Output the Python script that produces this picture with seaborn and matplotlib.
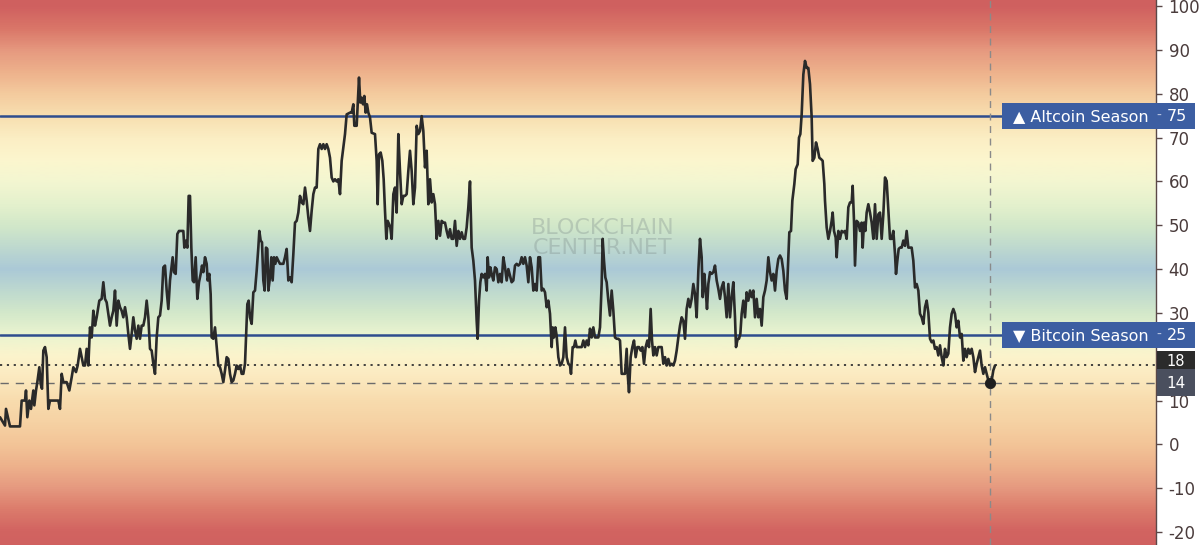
import numpy as np
import pandas as pd
import matplotlib
matplotlib.use("Agg")
import matplotlib.pyplot as plt
import matplotlib.transforms as mtransforms
from matplotlib.colors import LinearSegmentedColormap
from matplotlib.patches import Rectangle
import seaborn as sns

# time index (arbitrary units, no x labels in the chart) and altcoin season index values
t = [
    0, 15, 18, 25, 30, 60, 65, 75, 78, 82, 88, 93, 100, 103, 108, 112, 118, 122, 126, 130,
    135, 140, 145, 150, 175, 180, 185, 190, 200, 208, 215, 220, 228, 233, 240, 245, 250, 255, 260, 265,
    270, 275, 280, 285, 290, 298, 305, 310, 315, 320, 325, 330, 335, 340, 345, 350, 355, 360, 365, 370,
    375, 380, 385, 390, 395, 400, 405, 410, 415, 420, 425, 430, 435, 440, 445, 450, 455, 460, 465, 470,
    475, 480, 485, 490, 495,
    500, 505, 510, 518, 522, 527, 532, 537, 545, 550, 553, 558, 562, 566, 570, 574, 578, 582, 587, 592,
    597, 602, 606, 610, 615, 620, 623, 628, 632, 635, 640, 645, 650, 655, 660, 665, 670, 675, 680, 685,
    690, 695, 700, 705, 710, 715, 720, 725, 730, 735, 738, 742, 746, 750, 755, 760, 765, 770, 775, 778,
    782, 786, 790, 794, 798, 802, 805, 810, 814, 818, 822, 826, 830, 835, 840, 845, 850, 855, 860, 865,
    870, 875, 880, 885, 890, 895, 900, 905, 910, 915, 920, 925, 930, 935, 940, 945, 950, 955, 960, 965,
    970, 975, 980, 985, 990,
    995, 1000, 1005, 1010, 1015, 1020, 1025, 1030, 1035, 1040, 1050, 1055, 1060, 1063, 1070, 1073, 1077, 1081, 1085, 1089,
    1093, 1097, 1101, 1105, 1110, 1115, 1125, 1130, 1133, 1137, 1142, 1147, 1151, 1155, 1159, 1163, 1167, 1171, 1175, 1180,
    1185, 1190, 1195, 1200, 1205, 1210, 1215, 1220, 1225, 1230, 1235, 1240, 1245, 1250, 1255, 1260, 1265, 1270, 1275, 1280,
    1285, 1290, 1295, 1300, 1305, 1310, 1315, 1320, 1325, 1330, 1335, 1340, 1345, 1350, 1355, 1360, 1365, 1370, 1375, 1380,
    1385, 1390, 1395, 1400, 1405, 1410, 1415, 1420, 1425, 1430, 1433, 1437, 1441, 1445, 1450, 1455, 1460, 1463, 1467, 1471,
    1475, 1480, 1485,
    1490, 1495, 1500, 1505, 1510, 1515, 1520, 1525, 1530, 1535, 1540, 1545, 1550, 1555, 1560, 1565, 1570, 1575, 1580, 1585,
    1590, 1595, 1600, 1605, 1610, 1615, 1620, 1625, 1630, 1635, 1640, 1645, 1650, 1655, 1658, 1662, 1666, 1670, 1675, 1680,
    1685, 1690, 1695, 1700, 1705, 1710, 1713, 1718, 1722, 1726, 1730, 1735, 1740, 1745, 1750, 1755, 1760, 1765, 1770, 1775,
    1780, 1785, 1790, 1795, 1800, 1805, 1808, 1812, 1816, 1820, 1825, 1830, 1835, 1840, 1845, 1850, 1855, 1860, 1865, 1870,
    1875, 1880, 1883, 1887, 1892, 1897, 1902, 1907, 1912, 1917, 1922, 1927, 1932, 1937, 1942, 1947, 1952, 1956, 1960, 1965,
    1970, 1975, 1980,
    1985, 1990, 1995, 2000, 2005, 2010, 2015, 2020, 2025, 2030, 2035, 2040, 2045, 2050, 2055, 2060, 2065, 2070, 2075, 2080,
    2085, 2090, 2095, 2100, 2105, 2108, 2113, 2117, 2121, 2125, 2130, 2135, 2140, 2145, 2150, 2155, 2160, 2165, 2170, 2175,
    2180, 2185, 2190, 2195, 2200, 2205, 2208, 2213, 2217, 2221, 2225, 2230, 2235, 2240, 2245, 2250, 2255, 2260, 2265, 2270,
    2275, 2280, 2285, 2290, 2295, 2300, 2305, 2310, 2315, 2320, 2325, 2330, 2335, 2340, 2345, 2350, 2355, 2360, 2365, 2368,
    2373, 2377, 2383, 2387, 2393, 2397, 2401, 2405, 2410, 2415, 2420, 2425, 2430, 2435, 2438, 2443, 2448, 2453, 2458, 2463,
    2468, 2473,
    2475, 2480, 2485, 2490, 2495, 2498, 2502, 2507, 2510, 2515, 2520, 2525, 2530, 2535, 2540, 2545, 2550, 2555, 2558, 2562,
    2565, 2570, 2575, 2580, 2585, 2588, 2592, 2596, 2600, 2605, 2610, 2615, 2620, 2625, 2630, 2635, 2640, 2645, 2650, 2655,
    2660, 2665, 2670, 2675, 2680, 2685, 2688, 2692, 2696, 2700, 2705, 2710, 2715, 2720, 2725, 2730, 2735, 2740, 2745, 2750,
    2755, 2760, 2765, 2770, 2775, 2780, 2785, 2790, 2795, 2800, 2805, 2810, 2815, 2820, 2825, 2830, 2835, 2840, 2845, 2850,
    2855, 2860, 2865, 2870, 2875, 2880, 2885, 2890, 2895, 2900, 2905, 2910, 2915, 2920, 2925, 2930, 2935, 2940, 2945, 2950,
    2955, 2960, 2965, 2970, 2975, 2980, 2985,
]
index = [
    6.2, 4.3, 8.1, 5.8, 4.1, 4.1, 10.0, 10.0, 12.3, 6.2, 10.0, 8.1, 12.3, 8.9, 12.3, 14.2, 17.6, 13.8, 12.7, 21.4,
    22.2, 19.9, 8.1, 10.0, 10.0, 8.1, 16.1, 14.2, 14.2, 12.3, 15.3, 17.6, 16.5, 18.0, 21.8, 19.9, 18.0, 18.0, 21.8, 18.0,
    26.7, 24.4, 30.5, 27.1, 29.0, 32.8, 33.2, 37.0, 33.2, 32.4, 29.8, 27.1, 29.0, 30.5, 35.1, 27.1, 32.8, 31.3, 30.5, 29.0,
    31.3, 29.0, 25.2, 21.8, 25.2, 29.0, 26.0, 24.1, 27.1, 24.1, 27.1, 27.1, 29.0, 32.8, 29.0, 21.8, 21.4, 18.4, 16.1, 24.4,
    29.0, 29.4, 32.8, 40.4, 40.8,
    35.1, 30.9, 37.4, 42.7, 39.3, 38.9, 48.0, 48.7, 48.7, 48.7, 44.9, 46.5, 44.9, 56.7, 56.7, 44.9, 37.4, 37.0, 42.7, 33.2,
    37.0, 38.9, 40.8, 39.3, 42.7, 41.2, 37.4, 38.9, 34.3, 24.4, 24.1, 26.7, 22.2, 18.0, 17.6, 16.1, 14.2, 16.9, 19.9, 19.5,
    16.1, 14.2, 14.6, 16.1, 18.0, 17.2, 18.0, 16.1, 16.1, 18.4, 24.4, 32.0, 32.8, 29.0, 27.5, 34.7, 35.1, 39.6, 44.9, 48.7,
    46.5, 46.1, 37.4, 35.1, 44.9, 44.6, 35.1, 38.1, 42.7, 37.4, 42.7, 41.2, 42.7, 41.9, 41.2, 41.2, 41.2, 42.7, 44.6, 37.4,
    38.1, 37.0, 43.4, 50.6, 51.0, 52.9, 56.7, 55.2, 54.8, 58.6, 55.6, 51.8, 48.7, 53.3, 57.1, 58.6, 58.6, 67.4, 68.5, 67.4,
    68.5, 67.4, 68.5, 67.4, 65.4,
    60.9, 60.0, 60.5, 60.0, 60.5, 57.1, 64.7, 67.7, 70.8, 75.3, 75.7, 75.7, 77.6, 72.7, 72.7, 77.6, 83.7, 78.0, 79.1, 77.6,
    79.5, 75.7, 77.6, 75.7, 74.6, 71.1, 70.8, 64.7, 54.8, 66.2, 66.6, 64.7, 60.5, 53.3, 46.9, 51.0, 50.3, 49.5, 46.9, 57.1,
    58.6, 52.9, 70.8, 62.4, 54.8, 56.7, 56.7, 57.1, 62.4, 67.0, 62.4, 54.8, 58.6, 72.7, 70.8, 71.5, 74.9, 71.5, 63.2, 67.0,
    54.8, 60.5, 55.2, 57.1, 54.8, 46.9, 51.0, 47.6, 51.0, 50.6, 50.6, 48.7, 47.2, 49.1, 46.9, 46.9, 51.0, 45.3, 48.7, 46.9,
    48.4, 46.9, 46.9, 49.5, 54.1, 60.0, 44.9, 41.9, 37.4, 28.2, 24.1, 32.8, 37.0, 38.9, 38.1, 38.9, 35.1, 42.7, 38.1, 40.4,
    38.9, 37.4, 40.4,
    40.0, 37.0, 38.9, 37.0, 42.7, 40.4, 37.4, 40.0, 38.5, 37.0, 37.4, 40.8, 41.2, 40.8, 41.2, 42.7, 41.2, 42.7, 40.8, 37.0,
    42.7, 40.4, 35.1, 36.6, 35.1, 42.7, 42.7, 35.1, 35.5, 34.7, 31.3, 32.8, 29.8, 22.2, 26.7, 24.4, 26.7, 24.8, 19.9, 18.0,
    18.4, 19.9, 26.7, 19.9, 18.4, 18.0, 16.1, 22.2, 22.2, 23.7, 22.2, 22.2, 22.2, 22.2, 23.7, 22.2, 23.7, 22.6, 26.4, 24.4,
    26.7, 24.4, 24.4, 24.4, 26.7, 36.6, 46.9, 41.9, 38.1, 37.0, 32.8, 29.4, 35.1, 30.5, 24.4, 24.1, 24.1, 23.7, 16.1, 16.1,
    16.1, 21.8, 16.1, 11.9, 19.9, 22.2, 23.7, 19.9, 22.2, 22.2, 21.4, 22.2, 18.4, 22.2, 23.7, 22.2, 30.9, 23.7, 20.3, 22.2,
    20.3, 22.2, 22.2,
    22.2, 18.4, 19.9, 18.0, 19.5, 18.0, 18.4, 18.0, 19.1, 21.4, 24.4, 27.1, 29.0, 28.2, 24.1, 30.9, 33.2, 31.3, 33.2, 36.6,
    34.3, 29.0, 39.6, 46.9, 42.7, 33.6, 38.9, 35.1, 30.9, 36.6, 39.3, 38.9, 39.3, 40.8, 37.4, 35.5, 33.2, 35.8, 37.0, 33.6,
    29.0, 36.6, 29.0, 33.6, 37.0, 29.0, 22.2, 24.1, 24.1, 25.2, 29.8, 32.8, 29.0, 34.7, 32.8, 35.1, 33.6, 35.1, 29.0, 33.2,
    29.0, 30.9, 27.1, 33.6, 35.1, 37.4, 42.7, 39.3, 37.4, 38.9, 35.1, 39.6, 42.3, 43.1, 42.3, 39.6, 35.1, 33.2, 42.7, 48.4,
    48.7, 55.6, 59.4, 62.8, 63.9, 70.0, 70.8, 75.3, 84.4, 87.5, 85.9, 85.9, 82.2, 74.6, 64.7, 65.4, 68.9, 67.4, 65.4, 65.1,
    64.7, 59.4,
    55.6, 49.5, 46.9, 48.7, 51.0, 52.9, 48.7, 47.2, 42.7, 48.7, 46.9, 48.7, 48.4, 48.7, 46.9, 54.1, 55.2, 55.2, 59.0, 51.0,
    40.8, 51.0, 50.6, 48.7, 50.6, 44.9, 50.6, 48.7, 52.9, 54.8, 52.9, 50.6, 46.9, 54.8, 46.9, 52.5, 52.9, 46.9, 52.5, 60.9,
    60.1, 53.3, 46.9, 46.9, 48.7, 43.4, 38.9, 41.9, 44.6, 44.9, 44.9, 46.5, 45.3, 48.7, 44.9, 44.9, 44.9, 41.9, 35.8, 36.6,
    35.1, 29.8, 29.0, 27.5, 31.3, 32.8, 30.1, 24.1, 23.3, 23.7, 21.8, 22.2, 20.3, 22.6, 19.9, 18.0, 21.8, 19.9, 20.7, 26.7,
    29.8, 30.9, 29.8, 26.7, 28.2, 24.4, 25.2, 19.1, 21.8, 19.9, 21.8, 20.7, 21.8, 19.9, 16.5, 18.4, 19.9, 21.4, 18.0, 16.1,
    17.6, 16.1, 14.6, 14.0, 14.6, 16.9, 18.0,
]

altcoin_level = 75
bitcoin_level = 25
last_value = 18
hover_t = 2970
hover_value = 14
y_ticks = list(range(-20, 101, 10))
# the 20 label sits under the current-value tag on the price scale
y_tick_labels = ["" if v == 20 else str(v) for v in y_ticks]

# background zones coloured by index value
zone_values = [-25, -20, -15, -10, -5, 0, 5, 10, 15, 20, 25, 30, 35, 40, 45, 50, 55, 60,
               65, 70, 75, 80, 85, 90, 95, 100, 105]
zone_colors = ["#cf5f5f", "#d26461", "#dc7c6c", "#e69a80", "#eeb28c", "#f3c598", "#f6d2a4", "#f8dcae",
               "#fbe9bf", "#fcf4cc", "#eaf4d0", "#d3e8ca", "#bed9cf", "#abc9d7", "#bed9cf", "#d2e8c9",
               "#e5f1cd", "#f3f6d1", "#fcf6ce", "#fbeec4", "#f8dfb0", "#f4cc9f", "#eeb28c", "#e69a80",
               "#da7769", "#d06160", "#cf5f5f"]

x_min, x_max = 0, 3468
y_min, y_max = -22.96, 101.4

sns.set_theme(style="white")
plt.rcParams["font.family"] = ["DejaVu Sans"]
plt.rcParams["axes.unicode_minus"] = False

fig = plt.figure(figsize=(12, 5.45), dpi=100)
ax = fig.add_axes([0, 0, 1156 / 1200, 1])

cmap = LinearSegmentedColormap.from_list(
    "zones",
    [((v - zone_values[0]) / (zone_values[-1] - zone_values[0]), c) for v, c in zip(zone_values, zone_colors)],
)
grad = np.linspace(zone_values[0], zone_values[-1], 800).reshape(-1, 1)
ax.imshow(grad, extent=[x_min, x_max, zone_values[0], zone_values[-1]], origin="lower",
          aspect="auto", cmap=cmap, vmin=zone_values[0], vmax=zone_values[-1],
          interpolation="bilinear", zorder=0)

# watermark
ax.text(0.521, 47.1, "BLOCKCHAIN\nCENTER.NET",
        transform=mtransforms.blended_transform_factory(ax.transAxes, ax.transData),
        ha="center", va="center", fontsize=16, color="#7a8888", alpha=0.32,
        linespacing=0.95, zorder=1)

ax.axhline(altcoin_level, color="#2e4d8e", lw=1.8, zorder=2)
ax.axhline(bitcoin_level, color="#2e4d8e", lw=1.8, zorder=2)
ax.axhline(last_value, color="#333333", lw=1.3, ls=(0, (1.2, 2.6)), zorder=2)
ax.axhline(hover_value, color="#6b6b6b", lw=1.0, ls=(0, (6, 5)), zorder=2)
ax.axvline(hover_t, color="#8a8a8a", lw=1.0, ls=(0, (5, 4)), zorder=2)

df = pd.DataFrame({"t": t, "index": index})
sns.lineplot(data=df, x="t", y="index", color="#2a2a2a", linewidth=1.9, ax=ax, zorder=3)
sns.scatterplot(x=[hover_t], y=[hover_value], color="#1e1e1e", edgecolor="#1e1e1e", s=55,
                ax=ax, zorder=5, legend=False)

ax.set_xlim(x_min, x_max)
ax.set_ylim(y_min, y_max)
ax.set_xticks([])
ax.set_yticks(y_ticks)
ax.set_yticklabels(y_tick_labels)
ax.yaxis.tick_right()
ax.set_xlabel("")
ax.set_ylabel("")
ax.tick_params(axis="y", direction="out", length=4, width=1, color="#5b4848",
               labelsize=12, labelcolor="#4a3c3c", pad=5, right=True, left=False)
for side in ["top", "left", "bottom"]:
    ax.spines[side].set_visible(False)
ax.spines["right"].set_color("#5b4848")
ax.spines["right"].set_linewidth(1)

# price-scale labels to the right
tr = mtransforms.blended_transform_factory(fig.transFigure, ax.transData)
box_left, box_right = 1002 / 1200, 1195 / 1200
for level, label in [(altcoin_level, "\u25B2 Altcoin Season"), (bitcoin_level, "\u25BC Bitcoin Season")]:
    ax.add_patch(Rectangle((box_left, level - 3.1), box_right - box_left, 6.1, transform=tr,
                           facecolor="#3c5ea2", edgecolor="none", clip_on=False, zorder=6))
    ax.text(1013 / 1200, level - 0.1, label, transform=tr, ha="left", va="center",
            fontsize=11.5, color="white", zorder=7, clip_on=False)
    ax.text(1159 / 1200, level - 0.1, "-", transform=tr, ha="center", va="center",
            fontsize=10, color="#b9c6e3", zorder=7, clip_on=False)
    ax.text(1187 / 1200, level - 0.1, f"{level}", transform=tr, ha="right", va="center",
            fontsize=11.5, color="white", zorder=7, clip_on=False)

val_left = 1157 / 1200
ax.add_patch(Rectangle((val_left, 14.6), box_right - val_left, 6.8, transform=tr,
                       facecolor="#2b2b2b", edgecolor="none", clip_on=False, zorder=6))
ax.text(1176 / 1200, last_value + 0.9, f"{last_value}", transform=tr, ha="center", va="center",
        fontsize=10.5, color="white", zorder=7, clip_on=False)
ax.add_patch(Rectangle((val_left, 11.0), box_right - val_left, 6.1, transform=tr,
                       facecolor="#4a4f5e", edgecolor="none", clip_on=False, zorder=8))
ax.text(1176 / 1200, hover_value - 0.2, f"{hover_value}", transform=tr, ha="center", va="center",
        fontsize=11, color="white", zorder=9, clip_on=False)

fig.savefig("out.png", dpi=100, facecolor="white")
